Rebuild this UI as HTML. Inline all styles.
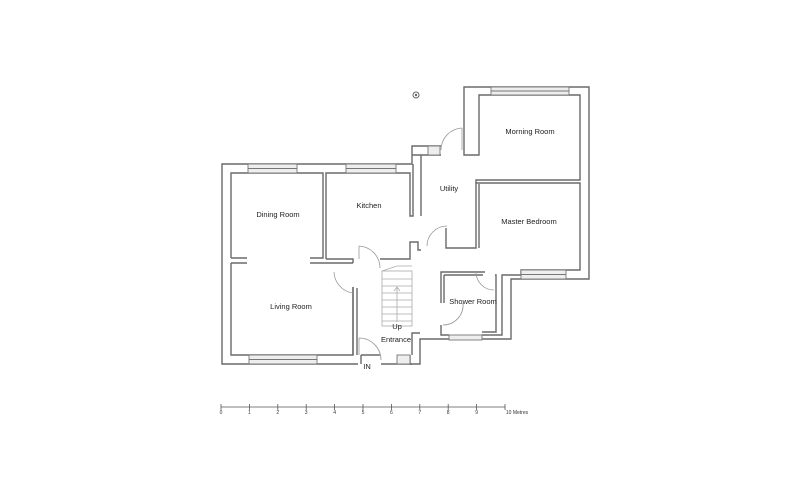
<!DOCTYPE html>
<html><head><style>body{margin:0;background:#fff}svg{display:block}</style></head><body>
<svg width="797" height="480" viewBox="0 0 797 480" xmlns="http://www.w3.org/2000/svg" font-family="Liberation Sans, sans-serif">
<g fill="none" stroke="#6a6a6a" stroke-width="1.4">
<path d="M441,146 L412,146 L412,164 L222,164 L222,364 L358,364 M381,364 L420,364 L420,339 L511,339 L511,279 L589,279 L589,87 L464,87 L464,146"/>
<path d="M231,258 L231,173 L323,173 L323,258 L310,258 M247,258 L231,258"/>
<path d="M231,263 L231,355 L353,355 L353,287 M353,263 L333,263 M247,263 L231,263"/>
<path d="M310,263 L333,263"/>
<path d="M357,288 L357,355"/>
<path d="M326,259 L326,173 L410,173 L410,216 L413,216 L413,164"/>
<path d="M326,259 L353,259 L353,263 M380,259 L410,259 L410,242 L418,242 L418,250 L421,250"/>
<path d="M421,216 L421,155 L441,155 M421,155 L412,155"/>
<path d="M446,228 L446,248 L476,248 L476,183 L580,183 L580,270 L521,270 L521,275 L502,275 L502,335 L482,335"/>
<path d="M464,146 L464,155 L479,155 L479,95 L580,95 L580,180 L479,180 L476,180 L476,183"/>
<path d="M479,184 L479,248"/>
<path d="M485,272 L441,272 L441,303 M441,325 L441,335 L449,335"/>
<path d="M444,275 L444,303 M444,275 L483,275"/>
<path d="M482,332 L496,332 L496,275 L495,275"/>
<path d="M353,287 L353,355 M361,355 L361,364 M410,355 L410,364 L412,364"/>
<path d="M412,355 L412,333 L420,333 M380,355 L361,355"/>
</g>
<g fill="#eee" stroke="#777" stroke-width="0.9">
<rect x="248" y="164" width="49" height="9"/><line x1="248" y1="168.5" x2="297" y2="168.5"/>
<rect x="346" y="164" width="50" height="9"/><line x1="346" y1="168.5" x2="396" y2="168.5"/>
<rect x="249" y="355" width="68" height="9"/><line x1="249" y1="359.5" x2="317" y2="359.5"/>
<rect x="491" y="87" width="78" height="8"/><line x1="491" y1="91" x2="569" y2="91"/>
<rect x="521" y="270" width="45" height="9"/><line x1="521" y1="274.5" x2="566" y2="274.5"/>
<rect x="449" y="335" width="33" height="5"/>
<rect x="397" y="355" width="13" height="9"/>
<rect x="428" y="146" width="12" height="9"/>
</g>
<g fill="none" stroke="#999" stroke-width="0.8">
<path d="M359,246 A22,22 0 0 1 380,268 M359,246 L359,259"/>
<path d="M334,272 A22,22 0 0 0 353,293"/>
<path d="M359,338 A22,22 0 0 1 381,360 M359,338 L359,355"/>
<path d="M462,128 A22,22 0 0 0 441,150 M462,128 L462,150"/>
<path d="M447,226 A20,20 0 0 0 427,246"/>
<path d="M476,272 A18,18 0 0 0 494,290"/>
<path d="M463,303 A20,20 0 0 1 443,325"/>
</g>
<g stroke="#aaa" stroke-width="0.8" fill="none">
<rect x="382" y="271" width="30" height="55"/>
<line x1="382" y1="279" x2="412" y2="279"/><line x1="382" y1="286" x2="412" y2="286"/>
<line x1="382" y1="293" x2="412" y2="293"/><line x1="382" y1="300" x2="412" y2="300"/>
<line x1="382" y1="307" x2="412" y2="307"/><line x1="382" y1="314" x2="412" y2="314"/>
<line x1="382" y1="321" x2="412" y2="321"/>
<line x1="397" y1="322" x2="397" y2="287"/><path d="M394,291 L397,287 L400,291"/>
<path d="M382,271 L397,266 L412,266"/>
</g>
<circle cx="416" cy="95" r="3" fill="none" stroke="#666"/><circle cx="416" cy="95" r="1.2" fill="#666"/>
<g font-size="7.5" fill="#222" text-anchor="middle">
<text x="278" y="217">Dining Room</text>
<text x="369" y="208">Kitchen</text>
<text x="291" y="309">Living Room</text>
<text x="449" y="191">Utility</text>
<text x="530" y="134">Morning Room</text>
<text x="529" y="224">Master Bedroom</text>
<text x="473" y="304">Shower Room</text>
<text x="397" y="329">Up</text>
<text x="396" y="342">Entrance</text>
<text x="367" y="369">IN</text>
</g>
<g stroke="#555" stroke-width="0.8">
<line x1="221" y1="407" x2="505" y2="407"/>
<line x1="221" y1="404" x2="221" y2="410"/><line x1="249.4" y1="404" x2="249.4" y2="410"/>
<line x1="277.8" y1="404" x2="277.8" y2="410"/><line x1="306.2" y1="404" x2="306.2" y2="410"/>
<line x1="334.6" y1="404" x2="334.6" y2="410"/><line x1="363" y1="404" x2="363" y2="410"/>
<line x1="391.4" y1="404" x2="391.4" y2="410"/><line x1="419.8" y1="404" x2="419.8" y2="410"/>
<line x1="448.2" y1="404" x2="448.2" y2="410"/><line x1="476.6" y1="404" x2="476.6" y2="410"/>
<line x1="505" y1="404" x2="505" y2="410"/>
</g>
<g font-size="5" fill="#333" text-anchor="middle">
<text x="221" y="414">0</text><text x="249.4" y="414">1</text><text x="277.8" y="414">2</text>
<text x="306.2" y="414">3</text><text x="334.6" y="414">4</text><text x="363" y="414">5</text>
<text x="391.4" y="414">6</text><text x="419.8" y="414">7</text><text x="448.2" y="414">8</text>
<text x="476.6" y="414">9</text><text x="517" y="414">10 Metres</text>
</g>
</svg>
</body></html>
